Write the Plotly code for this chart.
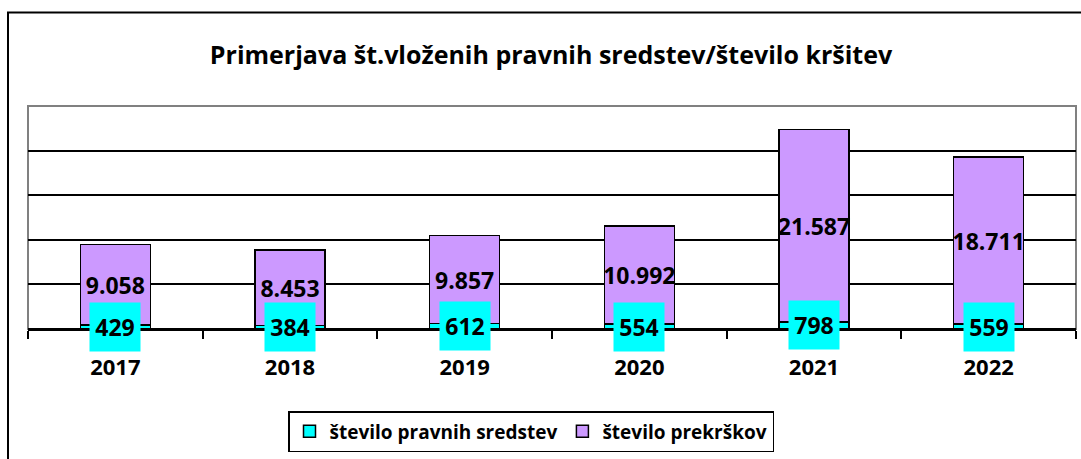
import plotly.graph_objects as go

years = ["2017", "2018", "2019", "2020", "2021", "2022"]
pravna_sredstva = [429, 384, 612, 554, 798, 559]
prekrski = [9058, 8453, 9857, 10992, 21587, 18711]
y_ticks = [0, 5000, 10000, 15000, 20000]

title_text = "Primerjava št.vloženih pravnih sredstev/število kršitev"
name_cyan = "število pravnih sredstev"
name_purple = "število prekrškov"

FONT = "Open Sans"
CYAN = "#00FFFF"
PURPLE = "#CC99FF"

W, H = 1081, 459
L, R, T, B = 28, 1076, 106, 329  # plot area pixels
pw, ph = R - L, B - T


def px_to_paper_x(px):
    return (px - L) / pw


def px_to_paper_y(py):
    return (B - py) / ph


def fmt(v):
    return f"{v:,}".replace(",", ".")


fig = go.Figure()
fig.add_trace(go.Bar(
    x=years, y=pravna_sredstva, name=name_cyan,
    marker=dict(color=CYAN, line=dict(color="black", width=1.5)),
    width=0.4,
))
fig.add_trace(go.Bar(
    x=years, y=prekrski, name=name_purple,
    marker=dict(color=PURPLE, line=dict(color="black", width=1.5)),
    width=0.4,
    text=[fmt(v) for v in prekrski],
    textposition="inside", insidetextanchor="middle",
    constraintext="none",
    textfont=dict(family=FONT, size=23, color="black", weight="bold"),
    textangle=0,
))

# cyan labels with cyan background (x given as category index)
for i, v in enumerate(pravna_sredstva):
    fig.add_annotation(
        x=i, y=v / 2, xref="x", yref="y",
        text=fmt(v), showarrow=False,
        font=dict(family=FONT, size=23, color="black", weight="bold"),
        bgcolor=CYAN, width=50, height=48, borderpad=0,
        xanchor="center", yanchor="middle", valign="middle",
    )

shapes = [
    dict(type="rect", xref="paper", yref="paper", x0=0, x1=1, y0=0, y1=1,
         line=dict(color="#808080", width=2), layer="below"),
    dict(type="rect", xref="paper", yref="paper",
         x0=px_to_paper_x(8), x1=px_to_paper_x(1095),
         y0=px_to_paper_y(475), y1=px_to_paper_y(12.5),
         line=dict(color="black", width=2), layer="below"),
]

fig.update_layout(
    width=W, height=H,
    barmode="stack",
    margin=dict(l=L, r=W - R, t=T, b=H - B, autoexpand=False),
    paper_bgcolor="white", plot_bgcolor="white",
    title=dict(text=title_text, x=551 / W, xref="container",
               y=1 - 55 / H, yanchor="middle", xanchor="center",
               font=dict(family=FONT, size=25, color="black", weight="bold")),
    font=dict(family=FONT, color="black"),
    showlegend=True,
    legend=dict(orientation="h", x=px_to_paper_x(531), xanchor="center",
                y=px_to_paper_y(411), yanchor="top",
                bordercolor="black", borderwidth=1.5, bgcolor="white",
                font=dict(family=FONT, size=19, color="black", weight="bold"),
                traceorder="normal"),
    shapes=shapes,
)
fig.update_xaxes(
    type="category", range=[-0.5, 5.5],
    showgrid=False, showline=True, linecolor="black", linewidth=2,
    ticks="outside", tickson="boundaries", ticklen=8, tickcolor="black", tickwidth=1.5,
    tickfont=dict(family=FONT, size=22, color="black", weight="bold"),
    ticklabelstandoff=18, tickangle=0,
)
fig.update_yaxes(
    range=[0, 25000], tickvals=y_ticks, showticklabels=False,
    showgrid=True, gridcolor="black", gridwidth=2,
    zeroline=True, zerolinecolor="black", zerolinewidth=2,
    showline=False,
)

fig.write_html("out.html", config={"displayModeBar": False},
               post_script="document.body.style.margin='0';")
